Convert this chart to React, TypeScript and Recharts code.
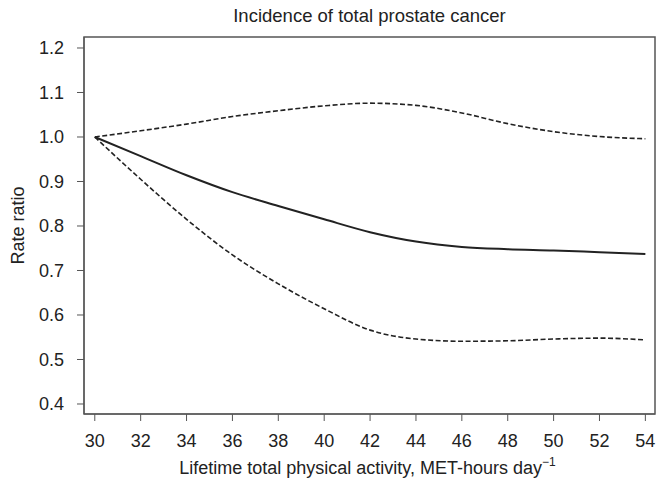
import { LineChart, Line, XAxis, YAxis, ReferenceArea } from "recharts";

const FONT = '"Liberation Sans", Arial, Helvetica, sans-serif';
const INK = "#222";
const FRAME = "#555";

// values
const activity = [30, 32, 34, 36, 38, 40, 42, 44, 46, 48, 50, 52, 54];
const rateRatio = [1.0, 0.957, 0.914, 0.876, 0.845, 0.815, 0.786, 0.765, 0.753, 0.748, 0.745, 0.741, 0.737];
const upperCI = [1.0, 1.014, 1.029, 1.046, 1.059, 1.07, 1.076, 1.071, 1.054, 1.03, 1.012, 1.001, 0.996];
const lowerCI = [1.0, 0.905, 0.815, 0.735, 0.67, 0.614, 0.566, 0.546, 0.541, 0.542, 0.546, 0.548, 0.544];

const xTicks = [30, 32, 34, 36, 38, 40, 42, 44, 46, 48, 50, 52, 54];
const yTicks = [0.4, 0.5, 0.6, 0.7, 0.8, 0.9, 1.0, 1.1, 1.2];

const X_DOMAIN: [number, number] = [29.53, 54.42];
const Y_DOMAIN: [number, number] = [0.3775, 1.2247];

const data = activity.map((x, i) => ({
  x,
  rr: rateRatio[i],
  hi: upperCI[i],
  lo: lowerCI[i],
}));

const TICK = { fontSize: 18, fill: INK, fontFamily: FONT };

function XTitle({ viewBox }: any) {
  const cx = viewBox.x + viewBox.width / 2;
  return (
    <text x={cx - 2} y={474} textAnchor="middle" fontSize={18} fill={INK} fontFamily={FONT}>
      Lifetime total physical activity, MET-hours day
      <tspan fontSize={12} dy={-8}>−1</tspan>
    </text>
  );
}

export default function App() {
  return (
    <div style={{ position: "absolute", left: 0, top: 0, background: "#fff" }}>
      <LineChart
        width={656}
        height={482}
        data={data}
        margin={{ top: 37, right: 1, bottom: 0, left: 0 }}
      >
        <text x={369.5} y={22} textAnchor="middle" fontSize={18.5} fill={INK} fontFamily={FONT}>
          Incidence of total prostate cancer
        </text>
        <XAxis
          dataKey="x"
          type="number"
          domain={X_DOMAIN}
          ticks={xTicks}
          allowDataOverflow
          height={68}
          tick={TICK}
          tickSize={7}
          tickMargin={13}
          tickLine={{ stroke: FRAME }}
          axisLine={{ stroke: FRAME }}
          label={<XTitle />}
        />
        <YAxis
          type="number"
          domain={Y_DOMAIN}
          ticks={yTicks}
          allowDataOverflow
          width={84}
          tick={TICK}
          tickFormatter={(v: number) => v.toFixed(1)}
          tickSize={7}
          tickMargin={13}
          tickLine={{ stroke: FRAME }}
          axisLine={{ stroke: FRAME }}
          label={{
            value: "Rate ratio",
            angle: -90,
            position: "insideLeft",
            offset: 0,
            dx: 18,
            style: { fontSize: 18, fill: INK, fontFamily: FONT, textAnchor: "middle" },
          }}
        />
        <ReferenceArea
          x1={X_DOMAIN[0]}
          x2={X_DOMAIN[1]}
          y1={Y_DOMAIN[0]}
          y2={Y_DOMAIN[1]}
          fill="none"
          stroke={FRAME}
          strokeWidth={1.5}
          ifOverflow="visible"
        />
        <Line
          type="monotone"
          dataKey="hi"
          stroke={INK}
          strokeWidth={1.6}
          strokeDasharray="5 2.5"
          dot={false}
          isAnimationActive={false}
        />
        <Line
          type="monotone"
          dataKey="lo"
          stroke={INK}
          strokeWidth={1.6}
          strokeDasharray="5 2.5"
          dot={false}
          isAnimationActive={false}
        />
        <Line
          type="monotone"
          dataKey="rr"
          stroke={INK}
          strokeWidth={2}
          dot={false}
          isAnimationActive={false}
        />
      </LineChart>
    </div>
  );
}
